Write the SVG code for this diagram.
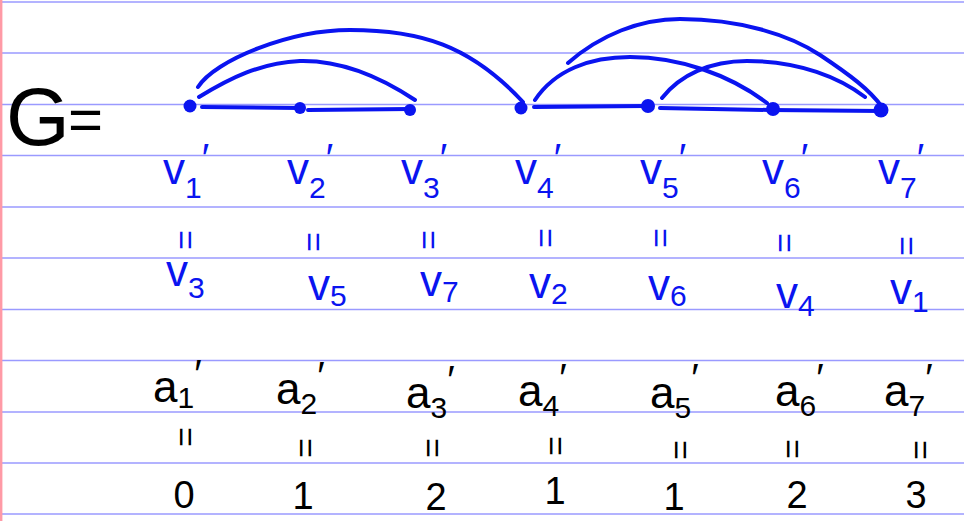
<svg xmlns="http://www.w3.org/2000/svg" width="964" height="521" viewBox="0 0 964 521">
<style>
.rule{stroke:#9a9aff;stroke-width:1.6}
.edge{fill:none;stroke:#0a14f0;stroke-width:4;stroke-linecap:round}
.dot{fill:#0a14f0}
text{font-family:"Liberation Sans","DejaVu Sans",sans-serif}
.b{fill:#0a14f0}
.k{fill:#000}
.big{font-size:44px}
.sub{font-size:30px}
.pr{font-size:40px}
.eq{font-size:34px}
.num{font-size:38px}
</style>
<rect width="964" height="521" fill="#fff"/>
<g id="paper">
<line class="rule" x1="0" y1="2" x2="964" y2="2"/>
<line class="rule" x1="0" y1="53" x2="964" y2="53"/>
<line class="rule" x1="0" y1="104.5" x2="964" y2="104.5"/>
<line class="rule" x1="0" y1="155.5" x2="964" y2="155.5"/>
<line class="rule" x1="0" y1="207" x2="964" y2="207"/>
<line class="rule" x1="0" y1="258" x2="964" y2="258"/>
<line class="rule" x1="0" y1="309.5" x2="964" y2="309.5"/>
<line class="rule" x1="0" y1="360.5" x2="964" y2="360.5"/>
<line class="rule" x1="0" y1="412" x2="964" y2="412"/>
<line class="rule" x1="0" y1="463" x2="964" y2="463"/>
<line class="rule" x1="0" y1="514" x2="964" y2="514"/>
<line x1="1.2" y1="0" x2="1.2" y2="521" stroke="#ff9aa6" stroke-width="2.4"/>
</g>
<g id="title">
<text class="k" x="6" y="145" font-size="82px">G</text>
<text class="k" x="68" y="140" font-size="60px">=</text>
</g>
<g id="connectors">
<path class="edge" d="M202,107 L300,108 M308,110 L410,109"/>
<path class="edge" d="M534,107 L645,106 M660,108 L770,110 L882,111"/>
<path class="edge" d="M199,97 C230,78 260,63 300,61 C345,60 385,80 415,100"/>
<path class="edge" d="M198,87 C215,60 290,30 350,30 C420,30 470,45 523,102"/>
<path class="edge" d="M535,100 C555,70 590,57 630,57 C680,57 730,75 767,103"/>
<path class="edge" d="M662,98 C680,75 710,61 747,61 C800,61 840,78 865,97"/>
<path class="edge" d="M568,63 C600,35 640,19 680,19 C740,19 790,35 820,55 C850,75 870,90 882,107"/>
</g>
<g id="v1"><circle class="dot" cx="190" cy="106" r="6.5"/><text class="b big" x="163" y="184">v<tspan class="sub" dy="14">1</tspan><tspan class="pr" dy="-26">′</tspan></text></g>
<g id="v2"><circle class="dot" cx="300" cy="108" r="6"/><text class="b big" x="287" y="184">v<tspan class="sub" dy="14">2</tspan><tspan class="pr" dy="-26">′</tspan></text></g>
<g id="v3"><circle class="dot" cx="410" cy="110" r="6"/><text class="b big" x="401" y="184">v<tspan class="sub" dy="14">3</tspan><tspan class="pr" dy="-26">′</tspan></text></g>
<g id="v4"><circle class="dot" cx="521" cy="108" r="6.5"/><text class="b big" x="515" y="184">v<tspan class="sub" dy="14">4</tspan><tspan class="pr" dy="-26">′</tspan></text></g>
<g id="v5"><circle class="dot" cx="648" cy="106" r="7"/><text class="b big" x="640" y="184">v<tspan class="sub" dy="14">5</tspan><tspan class="pr" dy="-26">′</tspan></text></g>
<g id="v6"><circle class="dot" cx="773" cy="109" r="7"/><text class="b big" x="762" y="184">v<tspan class="sub" dy="14">6</tspan><tspan class="pr" dy="-26">′</tspan></text></g>
<g id="v7"><circle class="dot" cx="881" cy="110" r="7.5"/><text class="b big" x="878" y="184">v<tspan class="sub" dy="14">7</tspan><tspan class="pr" dy="-26">′</tspan></text></g>
<g id="eq-row1" class="b eq">
<text transform="rotate(90 185 240)" x="185" y="240" text-anchor="middle" dy="11">=</text>
<text transform="rotate(90 313 242)" x="313" y="242" text-anchor="middle" dy="11">=</text>
<text transform="rotate(90 428 240)" x="428" y="240" text-anchor="middle" dy="11">=</text>
<text transform="rotate(90 545 238)" x="545" y="238" text-anchor="middle" dy="11">=</text>
<text transform="rotate(90 660 238)" x="660" y="238" text-anchor="middle" dy="11">=</text>
<text transform="rotate(90 784 243)" x="784" y="243" text-anchor="middle" dy="11">=</text>
<text transform="rotate(90 906 246)" x="906" y="246" text-anchor="middle" dy="11">=</text>
</g>
<g id="v-row2" class="b big">
<text x="166" y="286">v<tspan class="sub" dy="12">3</tspan></text>
<text x="308" y="300">v<tspan class="sub" dy="6">5</tspan></text>
<text x="420" y="296">v<tspan class="sub" dy="6">7</tspan></text>
<text x="529" y="298">v<tspan class="sub" dy="6">2</tspan></text>
<text x="648" y="300">v<tspan class="sub" dy="6">6</tspan></text>
<text x="776" y="308">v<tspan class="sub" dy="8">4</tspan></text>
<text x="890" y="304">v<tspan class="sub" dy="8">1</tspan></text>
</g>
<g id="a-row" class="k big">
<text x="153" y="402">a<tspan class="sub" dy="6">1</tspan><tspan class="pr" dy="-20">′</tspan></text>
<text x="276" y="404">a<tspan class="sub" dy="10">2</tspan><tspan class="pr" dy="-24">′</tspan></text>
<text x="406" y="408">a<tspan class="sub" dy="10">3</tspan><tspan class="pr" dy="-24">′</tspan></text>
<text x="518" y="406">a<tspan class="sub" dy="10">4</tspan><tspan class="pr" dy="-24">′</tspan></text>
<text x="650" y="408">a<tspan class="sub" dy="10">5</tspan><tspan class="pr" dy="-26">′</tspan></text>
<text x="775" y="406">a<tspan class="sub" dy="10">6</tspan><tspan class="pr" dy="-24">′</tspan></text>
<text x="884" y="406">a<tspan class="sub" dy="10">7</tspan><tspan class="pr" dy="-24">′</tspan></text>
</g>
<g id="eq-row2" class="k eq">
<text transform="rotate(90 185 437)" x="185" y="437" text-anchor="middle" dy="11">=</text>
<text transform="rotate(90 305 448)" x="305" y="448" text-anchor="middle" dy="11">=</text>
<text transform="rotate(90 432 448)" x="432" y="448" text-anchor="middle" dy="11">=</text>
<text transform="rotate(90 555 446)" x="555" y="446" text-anchor="middle" dy="11">=</text>
<text transform="rotate(90 680 450)" x="680" y="450" text-anchor="middle" dy="11">=</text>
<text transform="rotate(90 792 449)" x="792" y="449" text-anchor="middle" dy="11">=</text>
<text transform="rotate(90 920 450)" x="920" y="450" text-anchor="middle" dy="11">=</text>
</g>
<g id="values" class="k num" text-anchor="middle">
<text x="184" y="508">0</text>
<text x="303" y="509">1</text>
<text x="436" y="510">2</text>
<text x="555" y="504">1</text>
<text x="674" y="510">1</text>
<text x="797" y="508">2</text>
<text x="916" y="508">3</text>
</g>
</svg>
